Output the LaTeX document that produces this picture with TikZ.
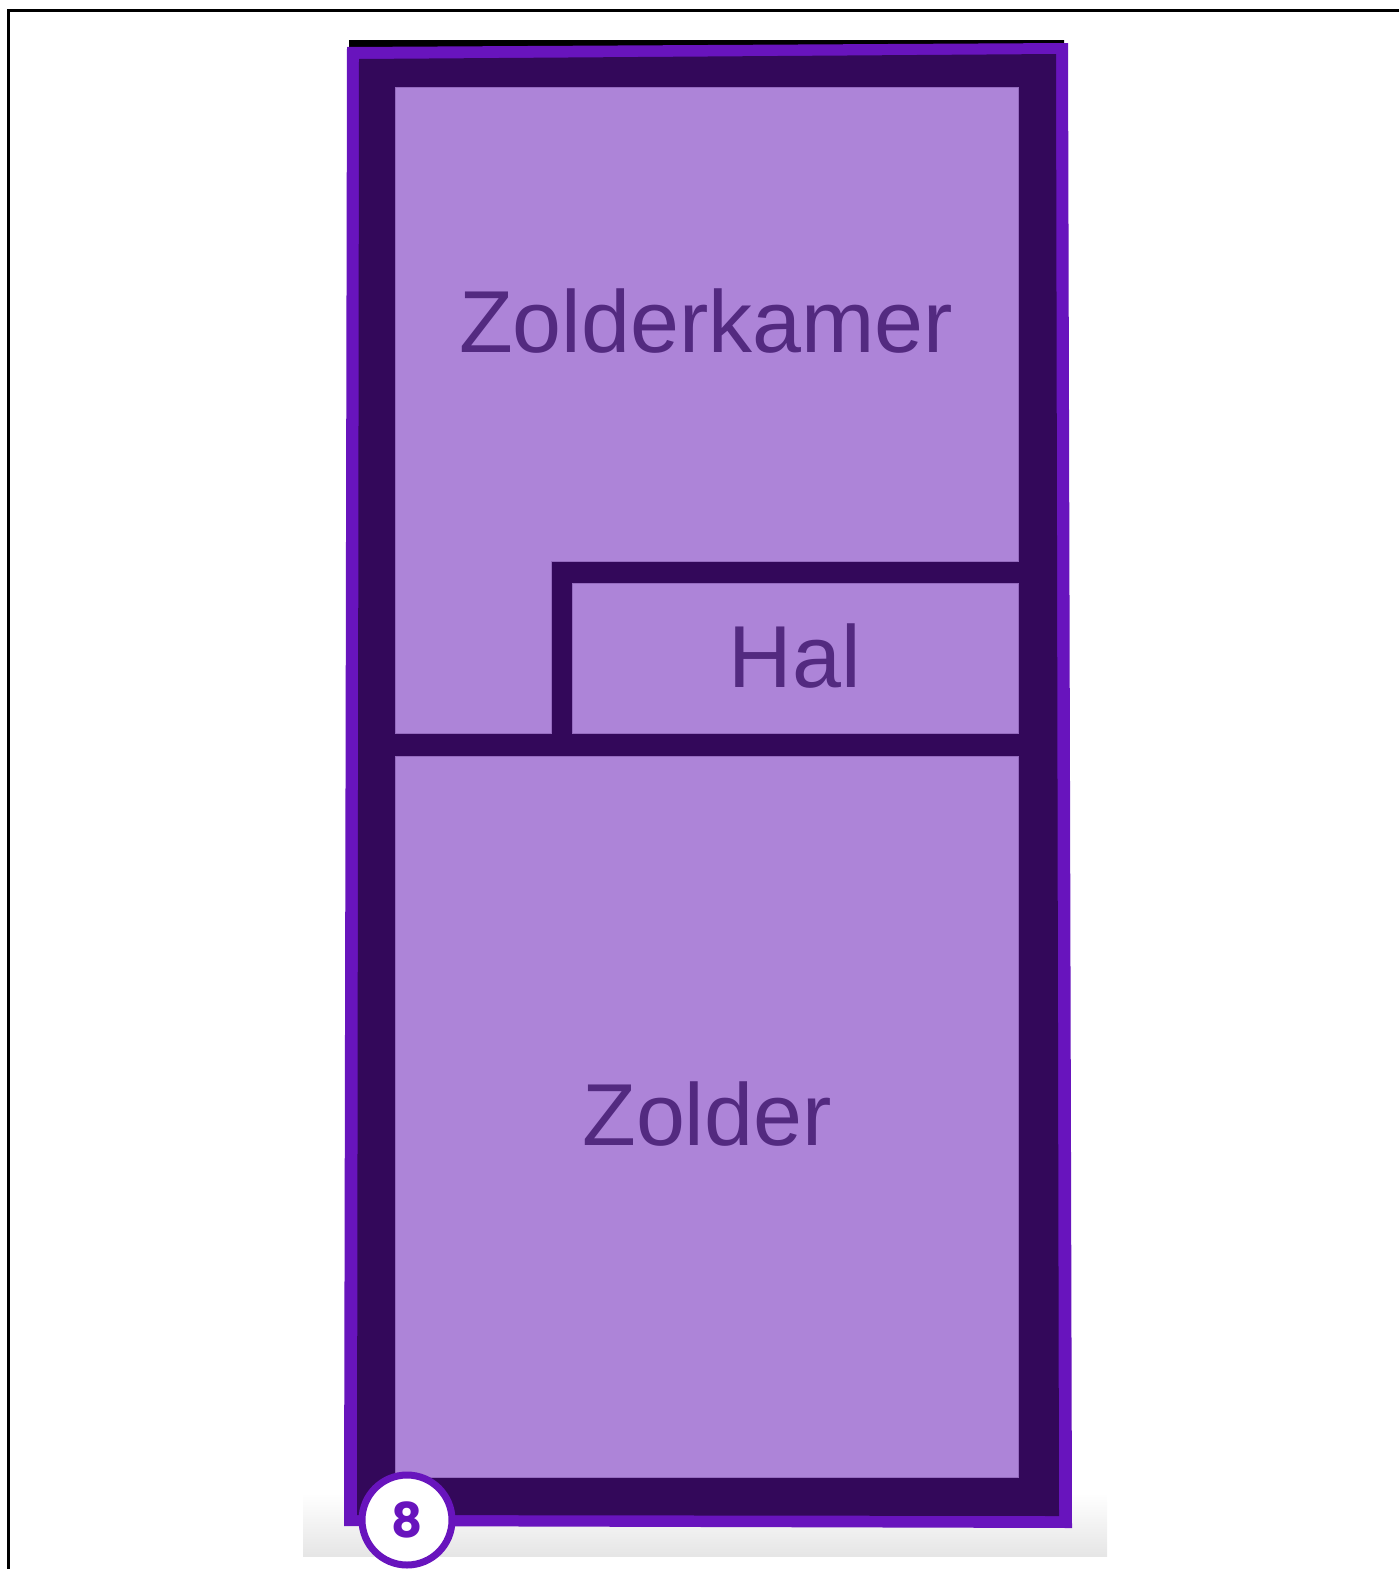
\documentclass[tikz,border=0pt]{standalone}
\usepackage{fontspec}
\setmainfont{Liberation Sans}
\newfontfamily\badgefont{Poppins}
\usepackage{xcolor}
\usepackage{tikz}

\definecolor{wall}{HTML}{33085A}
\definecolor{rim}{HTML}{6814BD}
\definecolor{room}{HTML}{AD84D8}
\definecolor{label}{HTML}{532A80}

\begin{document}
\begin{tikzpicture}[x=1pt,y=-1pt]
        \tikzstyle{roomfill} = [fill=room, draw=room!80!wall, line width=1pt]
        \tikzstyle{roomname} = [text=label, anchor=base, font=\fontsize{88}{100}\selectfont]
        \useasboundingbox (0,0) rectangle (1399,1569);
        % frame
        \draw[line width=3pt] (8,1569) -- (8,10) -- (1399,10);
        % shadow under the plan
        \shade[top color=white, bottom color=black!10] (303,1493) rectangle (1107,1556);
        % outline of the floor
        \fill[black] (349,40) -- (1064,40) -- (1064,44) -- (349,48) -- cycle;
        \fill[rim] (347,47) -- (1068,43) -- (1072,1528) -- (344,1526) -- cycle;
        \fill[wall] (359,59) -- (1056,54) -- (1059,1516) -- (357,1515) -- cycle;
        % rooms
        \draw[roomfill] (395,87) -- (1018,87) -- (1018,561) -- (551,561)
            -- (551,733) -- (395,733) -- cycle;
        \draw[roomfill] (572,583) rectangle (1018,733);
        \draw[roomfill] (395,756) rectangle (1018,1477);
        \node[roomname] (kamer) at (706,352) {Zolderkamer};
        \node[roomname] (hal) at (795,687) {Hal};
        \node[roomname] (zolder) at (707,1145) {Zolder};
        % number badge
        \node[circle, draw=rim, line width=7pt, fill=white, minimum size=90pt,
            inner sep=0pt, text=rim, font=\badgefont\bfseries\fontsize{48}{50}\selectfont]
            (badge) at (407,1520) {8};
    \end{tikzpicture}
\end{document}
